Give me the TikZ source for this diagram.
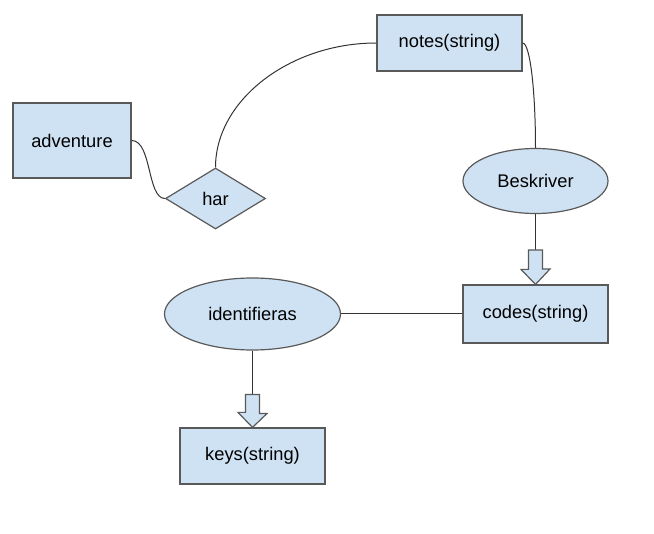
\documentclass[tikz,border=0pt]{standalone}
\usepackage{fontspec}
\setmainfont{Liberation Sans}
\usetikzlibrary{shapes.geometric}
\definecolor{boxfill}{HTML}{CFE2F3}
\definecolor{boxline}{HTML}{595959}
\definecolor{edgeline}{HTML}{333333}
\begin{document}
\begin{tikzpicture}[x=1pt,y=-1pt,
  every node/.style={font=\fontsize{18.3}{22}\selectfont, fill=boxfill, draw=boxline, line width=1.2pt, inner sep=0pt},
  entity/.style={rectangle},
  relation/.style={ellipse},
  rel2/.style={diamond},
  conn/.style={draw=edgeline, line width=1pt},
  blockarr/.style={draw=boxline, fill=boxfill, line width=1.2pt, line join=miter}]
\useasboundingbox (0,0) rectangle (654,534);
\node[entity, minimum width=145, minimum height=56] (notes) at (449.5,43) {notes(string)};
\node[entity, minimum width=118, minimum height=75] (adv) at (72,140.5) {adventure};
\node[rel2, minimum width=100, minimum height=61, aspect=1.64] (har) at (215.5,198.5) {har};
\node[relation, minimum width=145, minimum height=65] (besk) at (535.5,181) {Beskriver};
\node[entity, minimum width=145, minimum height=58] (codes) at (535.5,314) {codes(string)};
\node[relation, minimum width=176, minimum height=72] (ident) at (252.5,314) {identifieras};
\node[entity, minimum width=145, minimum height=56] (keys) at (252.5,456) {keys(string)};
% connectors
\draw[conn] (adv.east) .. controls (152,140.5) and (147,198.5) .. (har.west);
\draw[conn] (har.north) .. controls (215.5,100) and (290,43) .. (notes.west);
\draw[conn] (notes.east) .. controls (530,43) and (535.5,90) .. (besk.north);
\draw[conn] (ident.east) -- (codes.west);
% block arrow besk -> codes
\coordinate (a1) at (535.5,250);
\draw[conn] (besk.south) -- (a1);
\draw[blockarr] (a1) ++(-7,0) -- ++(14,0) -- ++(0,19) -- ++(7.5,0) -- (codes.north) -- ++(-14.5,-15) -- ++(7.5,0) -- cycle;
% block arrow ident -> keys
\coordinate (a2) at (252.5,394.5);
\draw[conn] (ident.south) -- (a2);
\draw[blockarr] (a2) ++(-7,0) -- ++(14,0) -- ++(0,19) -- ++(7.5,0) -- (keys.north) -- ++(-14.5,-15) -- ++(7.5,0) -- cycle;
\end{tikzpicture}
\end{document}
